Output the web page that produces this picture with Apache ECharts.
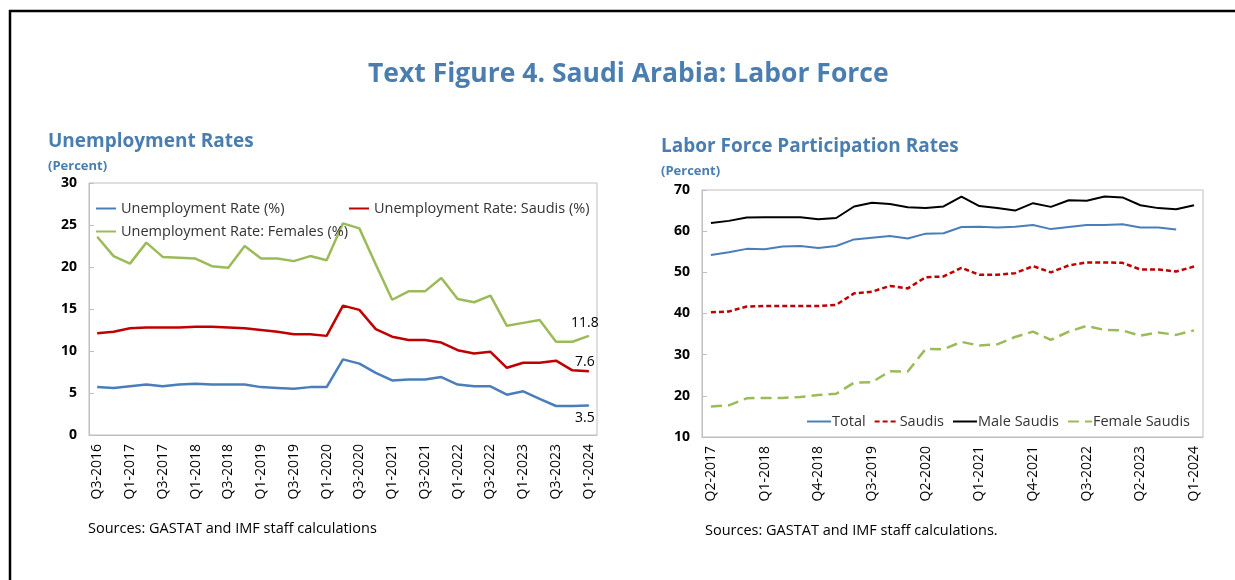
<!DOCTYPE html>
<html>
<head>
<meta charset="utf-8">
<script src="https://cdn.jsdelivr.net/npm/echarts@6/dist/echarts.min.js"></script>
<style>
  html, body { margin: 0; padding: 0; background: #fff; }
  #chart { width: 1235px; height: 580px; }
</style>
</head>
<body>
<div id="chart"></div>
<script>
// left panel: unemployment rates, quarterly
const unempQuarters = ['Q3-2016', 'Q4-2016', 'Q1-2017', 'Q2-2017', 'Q3-2017', 'Q4-2017',
  'Q1-2018', 'Q2-2018', 'Q3-2018', 'Q4-2018', 'Q1-2019', 'Q2-2019', 'Q3-2019', 'Q4-2019',
  'Q1-2020', 'Q2-2020', 'Q3-2020', 'Q4-2020', 'Q1-2021', 'Q2-2021', 'Q3-2021', 'Q4-2021',
  'Q1-2022', 'Q2-2022', 'Q3-2022', 'Q4-2022', 'Q1-2023', 'Q2-2023', 'Q3-2023', 'Q4-2023',
  'Q1-2024']
const unempTotal = [5.7, 5.6, 5.8, 6.0, 5.8, 6.0, 6.1, 6.0, 6.0, 6.0, 5.7, 5.6, 5.5, 5.7,
  5.7, 9.0, 8.5, 7.4, 6.5, 6.6, 6.6, 6.9, 6.0, 5.8, 5.8, 4.8, 5.2, 4.3, 3.45, 3.45, 3.5]
const unempSaudis = [12.1, 12.3, 12.7, 12.8, 12.8, 12.8, 12.9, 12.9, 12.8, 12.7, 12.5, 12.3,
  12.0, 12.0, 11.8, 15.4, 14.9, 12.6, 11.7, 11.3, 11.3, 11.0, 10.1, 9.7, 9.9, 8.0, 8.6, 8.6,
  8.85, 7.7, 7.6]
const unempFemales = [23.6, 21.3, 20.4, 22.9, 21.2, 21.1, 21.0, 20.1, 19.9, 22.5, 21.0, 21.0,
  20.7, 21.3, 20.8, 25.2, 24.6, 20.3, 16.1, 17.1, 17.1, 18.7, 16.2, 15.8, 16.6, 13.0, 13.35,
  13.7, 11.1, 11.1, 11.8]

// right panel: labor force participation rates
const lfpQuarters = ['Q2-2017', 'Q3-2017', 'Q4-2017', 'Q1-2018', 'Q2-2018', 'Q3-2018',
  'Q4-2018', 'Q1-2019', 'Q2-2019', 'Q3-2019', 'Q4-2019', 'Q1-2020', 'Q2-2020', 'Q3-2020',
  'Q4-2020', 'Q1-2021', 'Q2-2021', 'Q3-2021', 'Q4-2021', 'Q1-2022', 'Q2-2022', 'Q3-2022',
  'Q4-2022', 'Q1-2023', 'Q2-2023', 'Q3-2023', 'Q4-2023', 'Q1-2024']
const lfpTotal = [54.2, 54.9, 55.7, 55.6, 56.3, 56.4, 55.9, 56.4, 58.0, 58.4, 58.8, 58.2,
  59.4, 59.5, 61.0, 61.1, 60.9, 61.1, 61.5, 60.5, 61.0, 61.5, 61.5, 61.7, 60.9, 60.9, 60.4, null]
const lfpSaudis = [40.3, 40.5, 41.7, 41.8, 41.8, 41.8, 41.8, 42.1, 44.9, 45.3, 46.7, 46.1,
  48.8, 49.0, 51.1, 49.4, 49.4, 49.8, 51.5, 50.0, 51.7, 52.4, 52.4, 52.3, 50.7, 50.7, 50.2, 51.4]
const lfpMale = [62.0, 62.5, 63.3, 63.4, 63.4, 63.4, 62.9, 63.2, 66.0, 66.9, 66.6, 65.8,
  65.6, 66.0, 68.4, 66.1, 65.6, 65.0, 66.8, 65.9, 67.5, 67.4, 68.4, 68.2, 66.3, 65.6, 65.3, 66.3]
const lfpFemale = [17.4, 17.7, 19.4, 19.5, 19.5, 19.7, 20.2, 20.5, 23.2, 23.3, 26.0, 25.9,
  31.4, 31.3, 33.1, 32.2, 32.5, 34.3, 35.6, 33.6, 35.6, 37.0, 36.0, 35.9, 34.6, 35.4, 34.8, 35.9]

const BLUE = '#4a7ebb'
const RED = '#c00000'
const GREEN = '#9bbb59'
const TITLE_BLUE = '#4a7eb0'
const AXIS_GREY = '#bfbfbf'

// put a value label on the last point only (needs a tiny symbol so the label is drawn)
function withEndLabel(arr, pos, dist) {
  return arr.map((v, i) => i === arr.length - 1
    ? { value: v, symbol: 'circle', symbolSize: 1,
        label: { show: true, position: pos, distance: dist, offset: [-4, 0], color: '#000', fontSize: 14 } }
    : v)
}

function catAxis(gridIndex, cats, every) {
  return {
    type: 'category', gridIndex: gridIndex, data: cats, boundaryGap: true,
    axisLine: { lineStyle: { color: AXIS_GREY } },
    axisTick: { inside: true, length: 5, interval: 0, lineStyle: { color: AXIS_GREY } },
    axisLabel: { rotate: 90, interval: every, margin: 9, color: '#000', fontSize: 14 }
  }
}

function valAxis(gridIndex, min, max, step) {
  return {
    type: 'value', gridIndex: gridIndex, min: min, max: max, interval: step,
    axisLine: { show: true, lineStyle: { color: AXIS_GREY } },
    axisTick: { show: true, inside: true, length: 5, lineStyle: { color: AXIS_GREY } },
    splitLine: { show: false },
    axisLabel: { color: '#000', fontSize: 14, fontWeight: 'bold', margin: 12 }
  }
}

// legend shows only the line, no marker
const legendCommon = { itemWidth: 20, itemHeight: 3, itemStyle: { opacity: 0 },
  textStyle: { fontSize: 14.5, color: '#333' } }

const chart = echarts.init(document.getElementById('chart'))

const option = {
  animation: false,
  backgroundColor: '#fff',
  textStyle: { fontFamily: 'Open Sans' },
  title: [
    { text: 'Text Figure 4. Saudi Arabia: Labor Force', left: 363, top: 56,
      textStyle: { color: TITLE_BLUE, fontSize: 26.5, fontWeight: 'bold' } },
    { text: 'Unemployment Rates', left: 43, top: 127,
      textStyle: { color: TITLE_BLUE, fontSize: 19, fontWeight: 'bold' } },
    { text: '(Percent)', left: 43, top: 155,
      textStyle: { color: TITLE_BLUE, fontSize: 13, fontWeight: 'bold' } },
    { text: 'Labor Force Participation Rates', left: 656, top: 132,
      textStyle: { color: TITLE_BLUE, fontSize: 19, fontWeight: 'bold' } },
    { text: '(Percent)', left: 656, top: 160,
      textStyle: { color: TITLE_BLUE, fontSize: 13, fontWeight: 'bold' } },
    { text: 'Sources: GASTAT and IMF staff calculations', left: 83, top: 516,
      textStyle: { color: '#000', fontSize: 14.5, fontWeight: 'normal' } },
    { text: 'Sources: GASTAT and IMF staff calculations.', left: 700, top: 518,
      textStyle: { color: '#000', fontSize: 14.5, fontWeight: 'normal' } }
  ],
  legend: [
    Object.assign({ data: ['Unemployment Rate (%)'], left: 90, top: 196 }, legendCommon),
    Object.assign({ data: ['Unemployment Rate: Saudis (%)'], left: 343, top: 196 }, legendCommon),
    Object.assign({ data: ['Unemployment Rate: Females (%)'], left: 90, top: 219 }, legendCommon),
    Object.assign({}, legendCommon, {
      data: ['Total', 'Saudis', 'Male Saudis', 'Female Saudis'], right: 40, top: 409,
      itemWidth: 24, itemGap: 8,
      textStyle: { fontSize: 14.5, color: '#333', padding: [0, 0, 0, -4] }
    })
  ],
  grid: [
    { left: 89, top: 183, width: 508, height: 252, show: true, borderColor: AXIS_GREY, borderWidth: 1 },
    { left: 702, top: 190, width: 501, height: 247, show: true, borderColor: AXIS_GREY, borderWidth: 1 }
  ],
  xAxis: [catAxis(0, unempQuarters, 1), catAxis(1, lfpQuarters, 2)],
  yAxis: [valAxis(0, 0, 30, 5), valAxis(1, 10, 70, 10)],
  series: [
    { name: 'Unemployment Rate (%)', type: 'line', xAxisIndex: 0, yAxisIndex: 0, symbol: 'none',
      color: BLUE, lineStyle: { width: 2.5 }, data: withEndLabel(unempTotal, 'bottom', 5) },
    { name: 'Unemployment Rate: Saudis (%)', type: 'line', xAxisIndex: 0, yAxisIndex: 0, symbol: 'none',
      color: RED, lineStyle: { width: 2.5 }, data: withEndLabel(unempSaudis, 'top', 2) },
    { name: 'Unemployment Rate: Females (%)', type: 'line', xAxisIndex: 0, yAxisIndex: 0, symbol: 'none',
      color: GREEN, lineStyle: { width: 2.5 }, data: withEndLabel(unempFemales, 'top', 5) },
    { name: 'Total', type: 'line', xAxisIndex: 1, yAxisIndex: 1, symbol: 'none',
      color: BLUE, lineStyle: { width: 2 }, data: lfpTotal },
    { name: 'Saudis', type: 'line', xAxisIndex: 1, yAxisIndex: 1, symbol: 'none',
      color: RED, lineStyle: { width: 2.5, type: [5, 3] }, data: lfpSaudis },
    { name: 'Male Saudis', type: 'line', xAxisIndex: 1, yAxisIndex: 1, symbol: 'none',
      color: '#000', lineStyle: { width: 2 }, data: lfpMale },
    { name: 'Female Saudis', type: 'line', xAxisIndex: 1, yAxisIndex: 1, symbol: 'none',
      color: GREEN, lineStyle: { width: 2.5, type: [11, 6] }, data: lfpFemale }
  ],
  graphic: [
    // page frame (open on the right)
    { type: 'line', shape: { x1: 9, y1: 11, x2: 1235, y2: 11 }, style: { stroke: '#000', lineWidth: 2.5 } },
    { type: 'line', shape: { x1: 10, y1: 10, x2: 10, y2: 580 }, style: { stroke: '#000', lineWidth: 2.5 } }
  ]
}

chart.setOption(option)
</script>
</body>
</html>
